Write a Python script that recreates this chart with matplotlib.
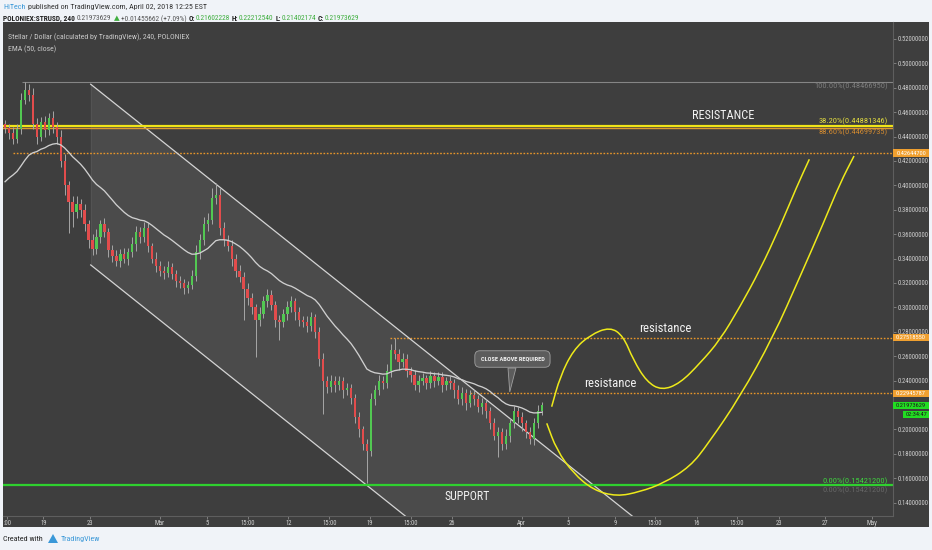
#XLM/USD 4h chart (TradingView style) with channel, fib levels and projection curves
import matplotlib
matplotlib.use("Agg")
import matplotlib.pyplot as plt
import matplotlib.transforms as mtransforms
from matplotlib import font_manager as fm
from matplotlib.patches import Polygon, Rectangle, PathPatch
from matplotlib.path import Path
import numpy as np

# ---------------- data ----------------
# x axis = days since Mar 1 2018, one bar ~ 8h
first_day = -13.28
bar_days = 0.3407
open0 = 0.450
closes = [0.447, 0.443, 0.438, 0.446, 0.470, 0.478, 0.474, 0.450, 0.440, 0.452,
          0.445, 0.455, 0.448, 0.440, 0.420, 0.400, 0.386, 0.378, 0.385, 0.380,
          0.368, 0.355, 0.348, 0.358, 0.368, 0.362, 0.347, 0.342, 0.338, 0.344,
          0.340, 0.345, 0.352, 0.362, 0.358, 0.365, 0.350, 0.340, 0.334, 0.330,
          0.328, 0.333, 0.327, 0.322, 0.320, 0.316, 0.318, 0.326, 0.345, 0.355,
          0.368, 0.372, 0.390, 0.392, 0.365, 0.355, 0.350, 0.340, 0.330, 0.325,
          0.315, 0.308, 0.300, 0.290, 0.295, 0.305, 0.310, 0.302, 0.290, 0.288,
          0.295, 0.300, 0.305, 0.296, 0.290, 0.288, 0.285, 0.292, 0.280, 0.258,
          0.240, 0.235, 0.240, 0.236, 0.240, 0.232, 0.234, 0.226, 0.210, 0.200,
          0.188, 0.182, 0.225, 0.232, 0.240, 0.238, 0.248, 0.265, 0.262, 0.255,
          0.258, 0.248, 0.245, 0.236, 0.240, 0.242, 0.238, 0.244, 0.240, 0.243,
          0.236, 0.240, 0.238, 0.232, 0.225, 0.230, 0.222, 0.228, 0.225, 0.218,
          0.222, 0.215, 0.205, 0.195, 0.198, 0.188, 0.195, 0.205, 0.215, 0.210,
          0.205, 0.198, 0.192, 0.205, 0.215, 0.2197]
# wick lengths above / below the body, in thousandths
wick_hi = [4, 3, 5, 4, 6, 7, 5, 6, 5, 4,
           5, 4, 6, 4, 5, 6, 4, 5, 6, 4,
           5, 4, 5, 6, 4, 5, 3, 4, 5, 4,
           5, 4, 6, 5, 4, 5, 4, 3, 5, 4,
           4, 5, 3, 4, 4, 3, 4, 5, 6, 5,
           6, 5, 8, 10, 6, 5, 4, 5, 4, 5,
           4, 5, 4, 3, 5, 4, 5, 4, 3, 4,
           4, 5, 4, 3, 4, 3, 5, 4, 3, 4,
           5, 4, 5, 4, 4, 3, 4, 3, 3, 4,
           3, 4, 5, 4, 5, 4, 6, 5, 10, 4,
           5, 4, 3, 4, 5, 4, 3, 4, 3, 4,
           4, 3, 4, 3, 4, 5, 3, 4, 4, 3,
           4, 3, 3, 4, 4, 3, 5, 4, 4, 3,
           4, 3, 4, 4, 5, 3]
wick_lo = [4, 5, 4, 3, 4, 3, 5, 4, 6, 4,
           5, 4, 5, 6, 5, 8, 25, 12, 5, 6,
           5, 6, 5, 4, 5, 4, 6, 5, 4, 5,
           4, 5, 4, 6, 5, 4, 5, 4, 5, 4,
           5, 3, 4, 5, 4, 5, 4, 3, 4, 5,
           4, 5, 4, 5, 6, 5, 4, 6, 5, 4,
           25, 6, 5, 31, 5, 4, 5, 4, 6, 15,
           4, 5, 4, 6, 5, 4, 5, 4, 5, 6,
           27, 5, 4, 5, 4, 6, 4, 5, 5, 6,
           5, 26, 4, 5, 4, 5, 4, 5, 4, 6,
           4, 5, 6, 4, 5, 4, 5, 4, 5, 4,
           5, 4, 5, 6, 4, 5, 6, 4, 5, 4,
           5, 6, 5, 4, 18, 5, 4, 5, 4, 5,
           6, 5, 4, 5, 4, 3]
ema_seed = 0.403
ema_len = 25            # 25 bars of 8h ~ EMA 50 on 4h

price_ticks = [0.14, 0.16, 0.18, 0.20, 0.22, 0.24, 0.26, 0.28, 0.30, 0.32,
               0.34, 0.36, 0.38, 0.40, 0.42, 0.44, 0.46, 0.48, 0.50, 0.52]
hidden_ticks = [0.22]   # covered by the last price tag in the picture
date_ticks = [-13.1, -10, -6, 0, 4, 7.5, 11, 14.5, 18, 21.5, 25, 31, 35, 39,
              42.4, 46, 49.4, 53, 57, 61]
date_labels = [':00', '19', '23', 'Mar', '5', '15:00', '12', '15:00', '19', '15:00',
               '26', 'Apr', '5', '9', '15:00', '16', '15:00', '23', '27', 'May']

fib_top = 0.48466950
fib_382 = 0.44881346
fib_886 = 0.44699735
fib_zero = 0.15421200
level_a = 0.42644700
level_b = 0.27518550
level_c = 0.22945787
last_price = 0.21973629

# descending channel (day, price)
chan_up = [(-5.94, 0.4829), (45.0, 0.0944)]
chan_lo = [(-5.94, 0.3348), (25.0, 0.0986)]

# hand drawn projection curves (day, price)
curve_a_d = [33.56, 34.28, 35.42, 36.85, 38.56, 39.70, 40.56, 41.70, 42.99, 44.56,
             46.27, 47.99, 49.70, 51.41, 53.13, 54.56, 55.64]
curve_a_p = [0.2186, 0.2432, 0.2651, 0.2774, 0.2840, 0.2765, 0.2569, 0.2391, 0.2320, 0.2378,
             0.2542, 0.2733, 0.3006, 0.3307, 0.3661, 0.3989, 0.4214]
curve_b_d = [33.14, 33.99, 35.42, 37.13, 39.13, 41.13, 43.13, 45.42, 46.99, 49.70,
             52.55, 54.84, 56.84, 58.27, 59.47]
curve_b_p = [0.2050, 0.1831, 0.1640, 0.1503, 0.1450, 0.1489, 0.1558, 0.1694, 0.1886, 0.2268,
             0.2760, 0.3252, 0.3689, 0.4017, 0.4241]

# ---------------- fonts ----------------
names = {f.name for f in fm.fontManager.ttflist}
FONT = {'family': ['Liberation Sans', 'DejaVu Sans']}
for n in ['Liberation Sans Narrow', 'Roboto Condensed', 'Open Sans Condensed']:
    if n in names:
        FONT = {'family': [n, 'DejaVu Sans']}
        break
else:
    if any(f.name == 'DejaVu Sans' and f.stretch == 'condensed' for f in fm.fontManager.ttflist):
        FONT = {'family': ['DejaVu Sans'], 'stretch': 'condensed'}

W, H = 932, 550
fig = plt.figure(figsize=(W / 100, H / 100), dpi=100)
fig.patch.set_facecolor('#f0f3f8')
BG = '#3e3e3e'
fig.patches.append(Rectangle((3 / W, (H - 527) / H), 926 / W, 505 / H,
                             transform=fig.transFigure, facecolor=BG, edgecolor='none', zorder=-5))

ax = fig.add_axes([3.3 / W, 34.5 / H, (893 - 3.3) / W, (515.5 - 22) / H])
ax.set_zorder(1)
ax.set_facecolor(BG)
ax.set_xlim(-13.43, 62.81)
ax.set_ylim(0.12943, 0.53393)

# channel
poly = Polygon([chan_up[0], chan_up[1], chan_lo[1], chan_lo[0]], closed=True,
               facecolor='#4b4b4b', edgecolor='none', zorder=0.5)
ax.add_patch(poly)
for seg in (chan_up, chan_lo):
    ax.plot([seg[0][0], seg[1][0]], [seg[0][1], seg[1][1]], color='#d4d4d4', lw=0.9, zorder=2)
ax.plot([chan_up[0][0], chan_lo[0][0]], [chan_up[0][1], chan_lo[0][1]], color='#555555', lw=0.6, zorder=1)

# horizontal levels
x_end = 62.81
ax.hlines(fib_top, -11.83, x_end, color='#858585', lw=0.8, zorder=1)
ax.axhline(fib_382, color='#f0e418', lw=1.6, zorder=2.5)
ax.axhline(fib_886, color='#e09a30', lw=1.0, zorder=2.4)
ax.hlines(level_a, -12.6, x_end, color='#e8962a', lw=1.0, linestyles=(0, (1.2, 1.2)), zorder=1)
ax.hlines(level_b, 19.7, x_end, color='#e8962a', lw=1.0, linestyles=(0, (1.2, 1.2)), zorder=1)
ax.hlines(level_c, 26.56, x_end, color='#e8962a', lw=1.0, linestyles=(0, (1.2, 1.2)), zorder=1)
ax.axhline(fib_zero, color='#2fd02f', lw=1.6, zorder=2)

lx = 62.38
def lvl_label(txt, y, dy, col):
    ax.annotate(txt, xy=(lx, y), xytext=(0, dy), textcoords='offset pixels',
                ha='right', va='center', color=col, fontsize=6, zorder=6, **FONT)
lvl_label('100.00%(0.48466950)', fib_top, -4, '#7c7c7c')
lvl_label('38.20%(0.44881346)', fib_382, 5, '#e4de40')
lvl_label('88.60%(0.44699735)', fib_886, -4, '#d28a30')
lvl_label('0.00%(0.15421200)', fib_zero, 4.5, '#3fd33f')
lvl_label('0.00%(0.15421200)', fib_zero, -4.5, '#666666')

# candles
opens = [open0] + closes[:-1]
days = first_day + bar_days * np.arange(len(closes))
hi = [max(o, c) + u / 1000 for o, c, u in zip(opens, closes, wick_hi)]
lo = [min(o, c) - d / 1000 for o, c, d in zip(opens, closes, wick_lo)]
ax.vlines(days, lo, hi, color='#a6a6a6', lw=0.7, zorder=3)
body = [max(abs(c - o), 0.0008) for o, c in zip(opens, closes)]
bottom = [min(o, c) for o, c in zip(opens, closes)]
cols = ['#52c852' if c >= o else '#e24c4c' for o, c in zip(opens, closes)]
ax.bar(days, body, bottom=bottom, width=0.2, color=cols, zorder=3.5, linewidth=0)

# EMA
alpha = 2 / (ema_len + 1)
ema = [ema_seed]
for c in closes[1:]:
    ema.append(ema[-1] + alpha * (c - ema[-1]))
ax.plot(days, ema, color='#cfcfcf', lw=0.95, zorder=4)

# projection curves
def smooth_path(xs, ys):
    pts = np.column_stack([xs, ys])
    verts = [pts[0], (pts[0] + pts[1]) / 2]
    codes = [Path.MOVETO, Path.LINETO]
    for i in range(1, len(pts) - 1):
        verts += [pts[i], (pts[i] + pts[i + 1]) / 2]
        codes += [Path.CURVE3, Path.CURVE3]
    verts.append(pts[-1])
    codes.append(Path.LINETO)
    return Path(verts, codes)

for xs, ys in ((curve_a_d, curve_a_p), (curve_b_d, curve_b_p)):
    ax.add_patch(PathPatch(smooth_path(xs, ys), fill=False, edgecolor='#eeea1a', lw=1.1, zorder=5))

# texts on chart
ax.text(48.24, 0.4577, 'RESISTANCE', color='#f2f2f2', fontsize=8.8, ha='center', va='center', zorder=6, **FONT)
ax.text(26.28, 0.1448, 'SUPPORT', color='#f2f2f2', fontsize=8.6, ha='center', va='center', zorder=6, **FONT)
ax.text(43.27, 0.2829, 'resistance', color='#f2f2f2', fontsize=9.2, ha='center', va='center', zorder=6, **FONT)
ax.text(38.56, 0.2378, 'resistance', color='#f2f2f2', fontsize=9.2, ha='center', va='center', zorder=6, **FONT)

# callout
ax.add_patch(Polygon([(29.82, 0.2503), (30.5, 0.2503), (29.97, 0.2307)], closed=True,
                     facecolor='#5c5c5c', edgecolor='#a0a0a0', lw=0.6, zorder=6))
ax.text(30.2, 0.2577, 'CLOSE ABOVE REQUIRED', color='#f0f0f0', fontsize=4.6, fontweight='bold',
        ha='center', va='center', zorder=7,
        bbox=dict(boxstyle='round,pad=0.9,rounding_size=0.8', fc='#5c5c5c', ec='#a0a0a0', lw=0.6), **FONT)

# axes styling
for s in ('left', 'top'):
    ax.spines[s].set_visible(False)
for s in ('bottom', 'right'):
    ax.spines[s].set_color('#5e5e5e')
    ax.spines[s].set_linewidth(0.8)
ax.yaxis.tick_right()
ax.set_yticks(price_ticks)
ax.set_yticklabels(['' if v in hidden_ticks else f'{v:.8f}' for v in price_ticks], **FONT)
ax.set_xticks(date_ticks)
ax.set_xticklabels(date_labels, **FONT)
ax.tick_params(axis='both', colors='#8a8a8a', labelcolor='#cfcfcf', labelsize=4.8, length=2, pad=1.5, width=0.6)

# price axis tags
blend = mtransforms.blended_transform_factory(ax.transAxes, ax.transData)
aw = (893 - 3.3)
def tag(price, txt, fc, tc, x0=0.0, dy_px=0.0):
    y = price + dy_px / 1220
    w = (36 - x0) / aw
    ax.add_patch(Rectangle((1.0 + x0 / aw, y - 3.8 / 1220), w, 7.6 / 1220, transform=blend,
                           facecolor=fc, edgecolor='none', clip_on=False, zorder=8))
    ax.text(1.0 + (x0 + 18 - x0 / 2) / aw, y, txt, transform=blend, color=tc, fontsize=4.6,
            ha='center', va='center', clip_on=False, zorder=9, **FONT)
tag(level_a, '0.42644700', '#f0a030', '#ffffff')
tag(level_b, '0.27518550', '#f0a030', '#ffffff')
tag(level_c, '0.22945787', '#f0a030', '#ffffff')
tag(last_price, '0.21973629', '#22dd22', '#1a1a1a')
tag(last_price, '02:34:47', '#22dd22', '#1a1a1a', x0=10, dy_px=-9)

# chart title inside
fig.text(8 / W, 1 - 37 / H, 'Stellar / Dollar (calculated by TradingView), 240, POLONIEX',
         color='#c8c8c8', fontsize=5.6, va='center', zorder=5, **FONT)
fig.text(8 / W, 1 - 49 / H, 'EMA (50, close)', color='#c8c8c8', fontsize=5.6, va='center', zorder=5, **FONT)

# header rows
rend = fig.canvas.get_renderer()
def row(x, y, parts, size):
    for s, col, bold, gap in parts:
        t = fig.text(x / W, 1 - y / H, s, color=col, fontsize=size, va='center',
                     fontweight='bold' if bold else 'normal', **FONT)
        x += t.get_window_extent(renderer=rend).width + gap

DK, GR, GN = '#222222', '#555555', '#3fae3f'
row(3, 7, [('HiTech', '#3a98d8', False, 2.2),
           ('published on TradingView.com, April 02, 2018 12:25 EST', '#333333', False, 0)], 5.8)
row(3, 19, [('POLONIEX:STRUSD, 240', DK, True, 2.2), ('0.21973629', GR, False, 2.2),
            ('▲', GN, False, 1.5), ('+0.01455662 (+7.09%)', GR, False, 2.2),
            ('O:', DK, True, 0.3), ('0.21602228', GN, False, 2.2),
            ('H:', DK, True, 0.3), ('0.22212540', GN, False, 2.2),
            ('L:', DK, True, 0.3), ('0.21402174', GN, False, 2.2),
            ('C:', DK, True, 0.3), ('0.21973629', GN, False, 0)], 5.3)

# footer
fig.text(3 / W, 1 - 539 / H, 'Created with', color='#222222', fontsize=5.8, va='center', **FONT)
fig.patches.append(Polygon([(48 / W, 1 - 543 / H), (53 / W, 1 - 534 / H), (58 / W, 1 - 543 / H)],
                           closed=True, transform=fig.transFigure, facecolor='#3a98d8', edgecolor='none'))
fig.text(61 / W, 1 - 539 / H, 'TradingView', color='#3a98d8', fontsize=5.8, va='center', **FONT)

fig.savefig('out.png', dpi=100, facecolor=fig.get_facecolor())
